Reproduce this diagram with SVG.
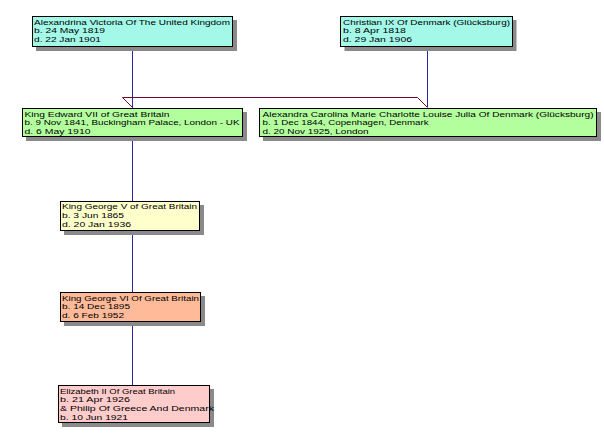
<svg xmlns="http://www.w3.org/2000/svg" width="604" height="439" viewBox="0 0 604 439">
<style>
.box{stroke:#000;stroke-width:1}
.sh{fill:#8a8a8a}
.t{font-family:"Liberation Sans",Arial,sans-serif;font-size:7.9px;fill:#000}
.desc{stroke:#2a2aa8;stroke-width:1;fill:none}
.mar{stroke:#6e0a28;stroke-width:1;fill:none}
</style>
<rect width="604" height="439" fill="#fff"/>
<g id="connectors">
<path class="desc" d="M132.5 47V108M132.5 137V201M132.5 231V292M132.5 322V385"/>
<path class="desc" d="M427.5 47V107"/>
<path class="mar" d="M132.5 107.5L122.5 97.5H417.5L427.5 107.5"/>
</g>
<g id="victoria">
<rect class="sh" x="36" y="20" width="201" height="31"/>
<rect class="box" x="32.5" y="16.5" width="200" height="30" fill="#a3f8e8"/>
<text class="t" x="34" y="24.5" textLength="196" lengthAdjust="spacingAndGlyphs">Alexandrina Victoria Of The United Kingdom</text>
<text class="t" x="34" y="33.2" textLength="71" lengthAdjust="spacingAndGlyphs">b. 24 May 1819</text>
<text class="t" x="34" y="41.9" textLength="67" lengthAdjust="spacingAndGlyphs">d. 22 Jan 1901</text>
</g>
<g id="christian">
<rect class="sh" x="344.5" y="20" width="172" height="31"/>
<rect class="box" x="340.5" y="16.5" width="172" height="30" fill="#a3f8e8"/>
<text class="t" x="343" y="24.5" textLength="167" lengthAdjust="spacingAndGlyphs">Christian IX Of Denmark (Glücksburg)</text>
<text class="t" x="343" y="33.2" textLength="63" lengthAdjust="spacingAndGlyphs">b. 8 Apr 1818</text>
<text class="t" x="343" y="41.9" textLength="69" lengthAdjust="spacingAndGlyphs">d. 29 Jan 1906</text>
</g>
<g id="edward">
<rect class="sh" x="26" y="112" width="221" height="29"/>
<rect class="box" x="22.5" y="108.5" width="220" height="28" fill="#b3ff9e"/>
<text class="t" x="24.5" y="116.5" textLength="145" lengthAdjust="spacingAndGlyphs">King Edward VII of Great Britain</text>
<text class="t" x="24.5" y="125.2" textLength="215" lengthAdjust="spacingAndGlyphs">b. 9 Nov 1841, Buckingham Palace, London - UK</text>
<text class="t" x="24.5" y="133.9" textLength="66" lengthAdjust="spacingAndGlyphs">d. 6 May 1910</text>
</g>
<g id="alexandra">
<rect class="sh" x="263" y="112" width="338" height="29"/>
<rect class="box" x="259.5" y="108.5" width="337" height="28" fill="#b3ff9e"/>
<text class="t" x="262.5" y="116.5" textLength="331" lengthAdjust="spacingAndGlyphs">Alexandra Carolina Marie Charlotte Louise Julia Of Denmark (Glücksburg)</text>
<text class="t" x="262.5" y="125.2" textLength="166" lengthAdjust="spacingAndGlyphs">b. 1 Dec 1844, Copenhagen, Denmark</text>
<text class="t" x="262.5" y="133.9" textLength="106" lengthAdjust="spacingAndGlyphs">d. 20 Nov 1925, London</text>
</g>
<g id="georgev">
<rect class="sh" x="64" y="205" width="140" height="30"/>
<rect class="box" x="60.5" y="201.5" width="139" height="29" fill="#ffffcc"/>
<text class="t" x="62" y="209.3" textLength="135" lengthAdjust="spacingAndGlyphs">King George V of Great Britain</text>
<text class="t" x="62" y="218" textLength="62" lengthAdjust="spacingAndGlyphs">b. 3 Jun 1865</text>
<text class="t" x="62" y="226.7" textLength="69" lengthAdjust="spacingAndGlyphs">d. 20 Jan 1936</text>
</g>
<g id="georgevi">
<rect class="sh" x="64" y="296" width="141" height="30"/>
<rect class="box" x="60.5" y="292.5" width="140" height="29" fill="#ffbb99"/>
<text class="t" x="62" y="300.5" textLength="137" lengthAdjust="spacingAndGlyphs">King George VI Of Great Britain</text>
<text class="t" x="62" y="309.2" textLength="68" lengthAdjust="spacingAndGlyphs">b. 14 Dec 1895</text>
<text class="t" x="62" y="317.9" textLength="62" lengthAdjust="spacingAndGlyphs">d. 6 Feb 1952</text>
</g>
<g id="elizabeth">
<rect class="sh" x="62" y="389" width="152" height="38"/>
<rect class="box" x="58.5" y="385.5" width="151" height="37" fill="#ffcccc"/>
<text class="t" x="60" y="393.5" textLength="115" lengthAdjust="spacingAndGlyphs">Elizabeth II Of Great Britain</text>
<text class="t" x="60" y="402.2" textLength="70" lengthAdjust="spacingAndGlyphs">b. 21 Apr 1926</text>
<text class="t" x="60" y="410.9" textLength="154" lengthAdjust="spacingAndGlyphs">&amp; Philip Of Greece And Denmark</text>
<text class="t" x="60" y="419.6" textLength="68" lengthAdjust="spacingAndGlyphs">b. 10 Jun 1921</text>
</g>
</svg>
